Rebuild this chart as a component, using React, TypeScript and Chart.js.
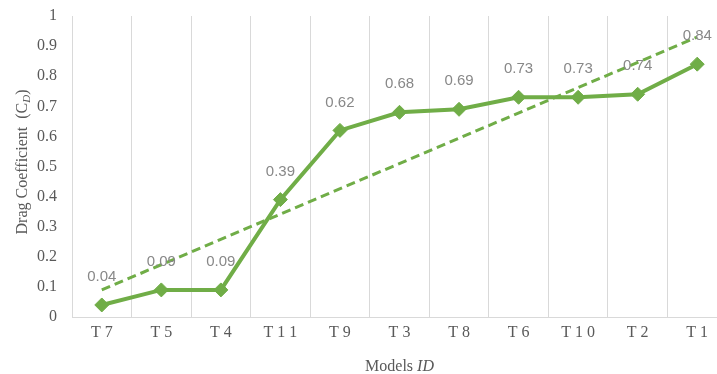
import React, { useEffect, useRef } from "react";
import { Chart, registerables } from "chart.js";

Chart.register(...registerables);

const categories = ["T 7", "T 5", "T 4", "T 1 1", "T 9", "T 3", "T 8", "T 6", "T 1 0", "T 2", "T 1"];
const dragValues = [0.04, 0.09, 0.09, 0.39, 0.62, 0.68, 0.69, 0.73, 0.73, 0.74, 0.84];
// Linear trendline end values (at first and last category)
const trendValues = [0.09, null, null, null, null, null, null, null, null, null, 0.93];
const yTicks = [0, 0.1, 0.2, 0.3, 0.4, 0.5, 0.6, 0.7, 0.8, 0.9, 1];

const GREEN = "#70AD47";
const TEXT = "#595959";
const GRID = "#d9d9d9";
const SERIF = "'Liberation Serif', 'Times New Roman', serif";
const SANS = "'Liberation Sans', Arial, sans-serif";

const annotPlugin = {
  id: "annot",
  afterDatasetsDraw(chart: any) {
    const ctx = chart.ctx;
    const meta = chart.getDatasetMeta(0);
    ctx.save();
    ctx.font = `15px ${SANS}`;
    ctx.fillStyle = "#888888";
    ctx.textAlign = "center";
    ctx.textBaseline = "middle";
    meta.data.forEach((pt: any, i: number) => {
      const v = dragValues[i];
      ctx.fillText(v.toFixed(2), pt.x, pt.y - 28);
    });
    ctx.restore();
  },
  afterDraw(chart: any) {
    const ctx = chart.ctx;
    const area = chart.chartArea;
    ctx.save();
    ctx.fillStyle = TEXT;
    ctx.textBaseline = "alphabetic";
    // X title: "Models ID"
    const cx = (area.left + area.right) / 2;
    ctx.font = `16px ${SERIF}`;
    const p1 = "Models ";
    const w1 = ctx.measureText(p1).width;
    ctx.font = `italic 16px ${SERIF}`;
    const w2 = ctx.measureText("ID").width;
    const x = cx - (w1 + w2) / 2;
    ctx.font = `16px ${SERIF}`;
    ctx.textAlign = "left";
    ctx.fillText(p1, x, 371);
    ctx.font = `italic 16px ${SERIF}`;
    ctx.fillText("ID", x + w1, 371);

    // Y title: "Drag Coefficient (C_D)"
    const cy = 162;
    ctx.translate(27, cy);
    ctx.rotate(-Math.PI / 2);
    ctx.font = `16px ${SERIF}`;
    const a = "Drag Coefficient  (C";
    const wa = ctx.measureText(a).width;
    ctx.font = `italic 11px ${SERIF}`;
    const wd = ctx.measureText("D").width;
    ctx.font = `16px ${SERIF}`;
    const wc = ctx.measureText(")").width;
    const total = wa + wd + wc;
    let tx = -total / 2;
    ctx.fillText(a, tx, 0);
    tx += wa;
    ctx.font = `italic 11px ${SERIF}`;
    ctx.fillText("D", tx, 3);
    tx += wd;
    ctx.font = `16px ${SERIF}`;
    ctx.fillText(")", tx, 0);
    ctx.restore();
  },
};

export default function App() {
  const ref = useRef<HTMLCanvasElement | null>(null);

  useEffect(() => {
    if (!ref.current) return;
    const chart = new Chart(ref.current, {
      type: "line",
      data: {
        labels: categories,
        datasets: [
          {
            label: "Drag Coefficient",
            data: dragValues,
            borderColor: GREEN,
            backgroundColor: GREEN,
            borderWidth: 4,
            pointStyle: "rectRot",
            pointRadius: 7,
            pointBorderWidth: 1,
            pointBackgroundColor: GREEN,
            pointBorderColor: GREEN,
            tension: 0,
          },
          {
            label: "Linear trend",
            data: trendValues,
            borderColor: GREEN,
            borderWidth: 3,
            borderDash: [9, 5],
            pointRadius: 0,
            spanGaps: true,
            fill: false,
          },
        ],
      },
      options: {
        responsive: false,
        animation: false,
        devicePixelRatio: 1,
        layout: { padding: { top: 16, right: 6, left: 0, bottom: 0 } },
        plugins: {
          legend: { display: false },
          tooltip: { enabled: false },
          title: { display: false },
        },
        scales: {
          x: {
            type: "category",
            offset: true,
            grid: { display: true, color: GRID, lineWidth: 1, drawTicks: false, offset: true },
            border: { display: true, color: GRID },
            ticks: { color: TEXT, font: { family: SERIF, size: 16 }, padding: 6, maxRotation: 0, autoSkip: false },
            afterFit: (s: any) => {
              s.height = 57;
              s.paddingLeft = 0;
              s.paddingRight = 0;
            },
          },
          y: {
            min: 0,
            max: 1,
            afterBuildTicks: (s: any) => {
              s.ticks = yTicks.map((v) => ({ value: v }));
            },
            grid: { display: false, drawTicks: false },
            border: { display: true, color: GRID },
            ticks: {
              color: TEXT,
              font: { family: SERIF, size: 16 },
              padding: 15,
              callback: (v: any) => String(Math.round(Number(v) * 10) / 10),
            },
            afterFit: (s: any) => {
              s.width = 72;
              s.paddingTop = 0;
              s.paddingBottom = 0;
            },
          },
        },
      },
      plugins: [annotPlugin],
    });
    return () => chart.destroy();
  }, []);

  return (
    <div
      style={{
        position: "absolute",
        left: 0,
        top: 0,
        width: 717,
        height: 374,
        overflow: "hidden",
        background: "#fff",
      }}
    >
      <canvas ref={ref} width={735} height={374} style={{ display: "block" }} />
    </div>
  );
}
